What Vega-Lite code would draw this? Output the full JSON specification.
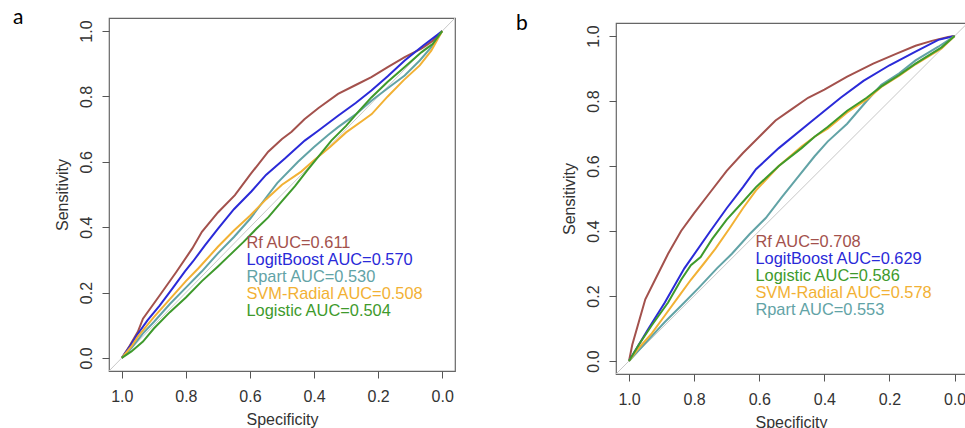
{
  "$schema": "https://vega.github.io/schema/vega-lite/v6.json",
  "background": "white",
  "padding": {"left": 12, "top": 6, "right": 0, "bottom": 0},
  "config": {
    "view": {"stroke": "#666666", "strokeWidth": 1.2},
    "axis": {"domain": false, "grid": false, "tickColor": "#555555", "tickSize": 7, "tickWidth": 1, "labelFont": "Liberation Sans", "labelFontSize": 16, "labelColor": "#333333", "titleFont": "Liberation Sans", "titleFontSize": 16, "titleFontWeight": "normal", "titleColor": "#333333", "labelFlush": false, "labelOverlap": false},
    "legend": {"orient": "none", "title": null, "symbolSize": 0, "symbolOpacity": 0, "symbolStrokeWidth": 0, "labelOffset": 0, "rowPadding": 0, "padding": 0, "labelFont": "Liberation Sans", "labelFontSize": 16.4, "labelLimit": 400, "labelBaseline": "middle"}
  },
  "datasets": {
    "diag": [{"spec": 1.1, "sens": -0.1}, {"spec": -0.1, "sens": 1.1}],
    "a": [
      {"curve": "Rf AUC=0.611", "spec": 1, "sens": 0}, {"curve": "Rf AUC=0.611", "spec": 0.975, "sens": 0.038}, {"curve": "Rf AUC=0.611", "spec": 0.95, "sens": 0.08}, {"curve": "Rf AUC=0.611", "spec": 0.934, "sens": 0.12}, {"curve": "Rf AUC=0.611", "spec": 0.882, "sens": 0.191}, {"curve": "Rf AUC=0.611", "spec": 0.83, "sens": 0.263}, {"curve": "Rf AUC=0.611", "spec": 0.78, "sens": 0.335}, {"curve": "Rf AUC=0.611", "spec": 0.75, "sens": 0.386}, {"curve": "Rf AUC=0.611", "spec": 0.7, "sens": 0.445}, {"curve": "Rf AUC=0.611", "spec": 0.647, "sens": 0.498}, {"curve": "Rf AUC=0.611", "spec": 0.6, "sens": 0.56}, {"curve": "Rf AUC=0.611", "spec": 0.543, "sens": 0.631}, {"curve": "Rf AUC=0.611", "spec": 0.5, "sens": 0.67}, {"curve": "Rf AUC=0.611", "spec": 0.47, "sens": 0.692}, {"curve": "Rf AUC=0.611", "spec": 0.43, "sens": 0.73}, {"curve": "Rf AUC=0.611", "spec": 0.387, "sens": 0.764}, {"curve": "Rf AUC=0.611", "spec": 0.325, "sens": 0.808}, {"curve": "Rf AUC=0.611", "spec": 0.27, "sens": 0.835}, {"curve": "Rf AUC=0.611", "spec": 0.221, "sens": 0.859}, {"curve": "Rf AUC=0.611", "spec": 0.17, "sens": 0.89}, {"curve": "Rf AUC=0.611", "spec": 0.117, "sens": 0.92}, {"curve": "Rf AUC=0.611", "spec": 0.065, "sens": 0.946}, {"curve": "Rf AUC=0.611", "spec": 0.03, "sens": 0.97}, {"curve": "Rf AUC=0.611", "spec": 0, "sens": 1},
      {"curve": "LogitBoost AUC=0.570", "spec": 1, "sens": 0}, {"curve": "LogitBoost AUC=0.570", "spec": 0.975, "sens": 0.035}, {"curve": "LogitBoost AUC=0.570", "spec": 0.954, "sens": 0.068}, {"curve": "LogitBoost AUC=0.570", "spec": 0.92, "sens": 0.115}, {"curve": "LogitBoost AUC=0.570", "spec": 0.882, "sens": 0.16}, {"curve": "LogitBoost AUC=0.570", "spec": 0.84, "sens": 0.215}, {"curve": "LogitBoost AUC=0.570", "spec": 0.803, "sens": 0.265}, {"curve": "LogitBoost AUC=0.570", "spec": 0.778, "sens": 0.295}, {"curve": "LogitBoost AUC=0.570", "spec": 0.74, "sens": 0.345}, {"curve": "LogitBoost AUC=0.570", "spec": 0.699, "sens": 0.396}, {"curve": "LogitBoost AUC=0.570", "spec": 0.65, "sens": 0.455}, {"curve": "LogitBoost AUC=0.570", "spec": 0.595, "sens": 0.51}, {"curve": "LogitBoost AUC=0.570", "spec": 0.55, "sens": 0.56}, {"curve": "LogitBoost AUC=0.570", "spec": 0.491, "sens": 0.61}, {"curve": "LogitBoost AUC=0.570", "spec": 0.429, "sens": 0.665}, {"curve": "LogitBoost AUC=0.570", "spec": 0.387, "sens": 0.695}, {"curve": "LogitBoost AUC=0.570", "spec": 0.325, "sens": 0.741}, {"curve": "LogitBoost AUC=0.570", "spec": 0.27, "sens": 0.78}, {"curve": "LogitBoost AUC=0.570", "spec": 0.221, "sens": 0.818}, {"curve": "LogitBoost AUC=0.570", "spec": 0.17, "sens": 0.862}, {"curve": "LogitBoost AUC=0.570", "spec": 0.117, "sens": 0.91}, {"curve": "LogitBoost AUC=0.570", "spec": 0.06, "sens": 0.955}, {"curve": "LogitBoost AUC=0.570", "spec": 0.013, "sens": 0.99}, {"curve": "LogitBoost AUC=0.570", "spec": 0, "sens": 1},
      {"curve": "Rpart AUC=0.530", "spec": 1, "sens": 0}, {"curve": "Rpart AUC=0.530", "spec": 0.97, "sens": 0.03}, {"curve": "Rpart AUC=0.530", "spec": 0.934, "sens": 0.075}, {"curve": "Rpart AUC=0.530", "spec": 0.9, "sens": 0.11}, {"curve": "Rpart AUC=0.530", "spec": 0.85, "sens": 0.165}, {"curve": "Rpart AUC=0.530", "spec": 0.8, "sens": 0.215}, {"curve": "Rpart AUC=0.530", "spec": 0.75, "sens": 0.265}, {"curve": "Rpart AUC=0.530", "spec": 0.7, "sens": 0.32}, {"curve": "Rpart AUC=0.530", "spec": 0.65, "sens": 0.37}, {"curve": "Rpart AUC=0.530", "spec": 0.6, "sens": 0.425}, {"curve": "Rpart AUC=0.530", "spec": 0.55, "sens": 0.49}, {"curve": "Rpart AUC=0.530", "spec": 0.515, "sens": 0.535}, {"curve": "Rpart AUC=0.530", "spec": 0.45, "sens": 0.6}, {"curve": "Rpart AUC=0.530", "spec": 0.4, "sens": 0.645}, {"curve": "Rpart AUC=0.530", "spec": 0.356, "sens": 0.682}, {"curve": "Rpart AUC=0.530", "spec": 0.325, "sens": 0.706}, {"curve": "Rpart AUC=0.530", "spec": 0.27, "sens": 0.745}, {"curve": "Rpart AUC=0.530", "spec": 0.221, "sens": 0.787}, {"curve": "Rpart AUC=0.530", "spec": 0.17, "sens": 0.825}, {"curve": "Rpart AUC=0.530", "spec": 0.117, "sens": 0.864}, {"curve": "Rpart AUC=0.530", "spec": 0.07, "sens": 0.91}, {"curve": "Rpart AUC=0.530", "spec": 0.034, "sens": 0.951}, {"curve": "Rpart AUC=0.530", "spec": 0, "sens": 1},
      {"curve": "SVM-Radial AUC=0.508", "spec": 1, "sens": 0}, {"curve": "SVM-Radial AUC=0.508", "spec": 0.97, "sens": 0.035}, {"curve": "SVM-Radial AUC=0.508", "spec": 0.95, "sens": 0.065}, {"curve": "SVM-Radial AUC=0.508", "spec": 0.9, "sens": 0.125}, {"curve": "SVM-Radial AUC=0.508", "spec": 0.85, "sens": 0.18}, {"curve": "SVM-Radial AUC=0.508", "spec": 0.8, "sens": 0.235}, {"curve": "SVM-Radial AUC=0.508", "spec": 0.76, "sens": 0.275}, {"curve": "SVM-Radial AUC=0.508", "spec": 0.7, "sens": 0.34}, {"curve": "SVM-Radial AUC=0.508", "spec": 0.65, "sens": 0.39}, {"curve": "SVM-Radial AUC=0.508", "spec": 0.6, "sens": 0.435}, {"curve": "SVM-Radial AUC=0.508", "spec": 0.55, "sens": 0.485}, {"curve": "SVM-Radial AUC=0.508", "spec": 0.5, "sens": 0.53}, {"curve": "SVM-Radial AUC=0.508", "spec": 0.44, "sens": 0.57}, {"curve": "SVM-Radial AUC=0.508", "spec": 0.4, "sens": 0.605}, {"curve": "SVM-Radial AUC=0.508", "spec": 0.35, "sens": 0.645}, {"curve": "SVM-Radial AUC=0.508", "spec": 0.3, "sens": 0.69}, {"curve": "SVM-Radial AUC=0.508", "spec": 0.25, "sens": 0.725}, {"curve": "SVM-Radial AUC=0.508", "spec": 0.22, "sens": 0.746}, {"curve": "SVM-Radial AUC=0.508", "spec": 0.17, "sens": 0.8}, {"curve": "SVM-Radial AUC=0.508", "spec": 0.12, "sens": 0.85}, {"curve": "SVM-Radial AUC=0.508", "spec": 0.07, "sens": 0.895}, {"curve": "SVM-Radial AUC=0.508", "spec": 0.034, "sens": 0.94}, {"curve": "SVM-Radial AUC=0.508", "spec": 0, "sens": 1},
      {"curve": "Logistic AUC=0.504", "spec": 1, "sens": 0}, {"curve": "Logistic AUC=0.504", "spec": 0.97, "sens": 0.02}, {"curve": "Logistic AUC=0.504", "spec": 0.934, "sens": 0.05}, {"curve": "Logistic AUC=0.504", "spec": 0.9, "sens": 0.09}, {"curve": "Logistic AUC=0.504", "spec": 0.85, "sens": 0.14}, {"curve": "Logistic AUC=0.504", "spec": 0.8, "sens": 0.185}, {"curve": "Logistic AUC=0.504", "spec": 0.75, "sens": 0.235}, {"curve": "Logistic AUC=0.504", "spec": 0.7, "sens": 0.28}, {"curve": "Logistic AUC=0.504", "spec": 0.668, "sens": 0.31}, {"curve": "Logistic AUC=0.504", "spec": 0.62, "sens": 0.355}, {"curve": "Logistic AUC=0.504", "spec": 0.58, "sens": 0.395}, {"curve": "Logistic AUC=0.504", "spec": 0.543, "sens": 0.43}, {"curve": "Logistic AUC=0.504", "spec": 0.5, "sens": 0.48}, {"curve": "Logistic AUC=0.504", "spec": 0.46, "sens": 0.525}, {"curve": "Logistic AUC=0.504", "spec": 0.42, "sens": 0.575}, {"curve": "Logistic AUC=0.504", "spec": 0.387, "sens": 0.615}, {"curve": "Logistic AUC=0.504", "spec": 0.346, "sens": 0.665}, {"curve": "Logistic AUC=0.504", "spec": 0.3, "sens": 0.71}, {"curve": "Logistic AUC=0.504", "spec": 0.26, "sens": 0.755}, {"curve": "Logistic AUC=0.504", "spec": 0.221, "sens": 0.797}, {"curve": "Logistic AUC=0.504", "spec": 0.17, "sens": 0.845}, {"curve": "Logistic AUC=0.504", "spec": 0.117, "sens": 0.89}, {"curve": "Logistic AUC=0.504", "spec": 0.065, "sens": 0.935}, {"curve": "Logistic AUC=0.504", "spec": 0.03, "sens": 0.96}, {"curve": "Logistic AUC=0.504", "spec": 0, "sens": 1}
    ],
    "b": [
      {"curve": "Rf AUC=0.708", "spec": 1, "sens": 0}, {"curve": "Rf AUC=0.708", "spec": 0.99, "sens": 0.05}, {"curve": "Rf AUC=0.708", "spec": 0.97, "sens": 0.12}, {"curve": "Rf AUC=0.708", "spec": 0.95, "sens": 0.19}, {"curve": "Rf AUC=0.708", "spec": 0.92, "sens": 0.25}, {"curve": "Rf AUC=0.708", "spec": 0.88, "sens": 0.33}, {"curve": "Rf AUC=0.708", "spec": 0.84, "sens": 0.4}, {"curve": "Rf AUC=0.708", "spec": 0.8, "sens": 0.455}, {"curve": "Rf AUC=0.708", "spec": 0.75, "sens": 0.52}, {"curve": "Rf AUC=0.708", "spec": 0.7, "sens": 0.585}, {"curve": "Rf AUC=0.708", "spec": 0.65, "sens": 0.64}, {"curve": "Rf AUC=0.708", "spec": 0.6, "sens": 0.69}, {"curve": "Rf AUC=0.708", "spec": 0.55, "sens": 0.74}, {"curve": "Rf AUC=0.708", "spec": 0.5, "sens": 0.775}, {"curve": "Rf AUC=0.708", "spec": 0.45, "sens": 0.81}, {"curve": "Rf AUC=0.708", "spec": 0.4, "sens": 0.835}, {"curve": "Rf AUC=0.708", "spec": 0.33, "sens": 0.875}, {"curve": "Rf AUC=0.708", "spec": 0.25, "sens": 0.915}, {"curve": "Rf AUC=0.708", "spec": 0.18, "sens": 0.945}, {"curve": "Rf AUC=0.708", "spec": 0.12, "sens": 0.97}, {"curve": "Rf AUC=0.708", "spec": 0.07, "sens": 0.985}, {"curve": "Rf AUC=0.708", "spec": 0.02, "sens": 0.997}, {"curve": "Rf AUC=0.708", "spec": 0, "sens": 1},
      {"curve": "LogitBoost AUC=0.629", "spec": 1, "sens": 0}, {"curve": "LogitBoost AUC=0.629", "spec": 0.97, "sens": 0.05}, {"curve": "LogitBoost AUC=0.629", "spec": 0.94, "sens": 0.1}, {"curve": "LogitBoost AUC=0.629", "spec": 0.89, "sens": 0.18}, {"curve": "LogitBoost AUC=0.629", "spec": 0.83, "sens": 0.285}, {"curve": "LogitBoost AUC=0.629", "spec": 0.75, "sens": 0.4}, {"curve": "LogitBoost AUC=0.629", "spec": 0.7, "sens": 0.47}, {"curve": "LogitBoost AUC=0.629", "spec": 0.65, "sens": 0.535}, {"curve": "LogitBoost AUC=0.629", "spec": 0.61, "sens": 0.59}, {"curve": "LogitBoost AUC=0.629", "spec": 0.54, "sens": 0.655}, {"curve": "LogitBoost AUC=0.629", "spec": 0.44, "sens": 0.737}, {"curve": "LogitBoost AUC=0.629", "spec": 0.35, "sens": 0.81}, {"curve": "LogitBoost AUC=0.629", "spec": 0.28, "sens": 0.862}, {"curve": "LogitBoost AUC=0.629", "spec": 0.2, "sens": 0.91}, {"curve": "LogitBoost AUC=0.629", "spec": 0.12, "sens": 0.952}, {"curve": "LogitBoost AUC=0.629", "spec": 0.05, "sens": 0.988}, {"curve": "LogitBoost AUC=0.629", "spec": 0, "sens": 1},
      {"curve": "Rpart AUC=0.553", "spec": 1, "sens": 0}, {"curve": "Rpart AUC=0.553", "spec": 0.95, "sens": 0.055}, {"curve": "Rpart AUC=0.553", "spec": 0.89, "sens": 0.12}, {"curve": "Rpart AUC=0.553", "spec": 0.84, "sens": 0.17}, {"curve": "Rpart AUC=0.553", "spec": 0.786, "sens": 0.225}, {"curve": "Rpart AUC=0.553", "spec": 0.73, "sens": 0.285}, {"curve": "Rpart AUC=0.553", "spec": 0.684, "sens": 0.33}, {"curve": "Rpart AUC=0.553", "spec": 0.63, "sens": 0.39}, {"curve": "Rpart AUC=0.553", "spec": 0.58, "sens": 0.44}, {"curve": "Rpart AUC=0.553", "spec": 0.53, "sens": 0.505}, {"curve": "Rpart AUC=0.553", "spec": 0.49, "sens": 0.555}, {"curve": "Rpart AUC=0.553", "spec": 0.43, "sens": 0.63}, {"curve": "Rpart AUC=0.553", "spec": 0.39, "sens": 0.675}, {"curve": "Rpart AUC=0.553", "spec": 0.33, "sens": 0.73}, {"curve": "Rpart AUC=0.553", "spec": 0.27, "sens": 0.8}, {"curve": "Rpart AUC=0.553", "spec": 0.225, "sens": 0.85}, {"curve": "Rpart AUC=0.553", "spec": 0.17, "sens": 0.885}, {"curve": "Rpart AUC=0.553", "spec": 0.12, "sens": 0.925}, {"curve": "Rpart AUC=0.553", "spec": 0.05, "sens": 0.967}, {"curve": "Rpart AUC=0.553", "spec": 0, "sens": 1},
      {"curve": "SVM-Radial AUC=0.578", "spec": 1, "sens": 0}, {"curve": "SVM-Radial AUC=0.578", "spec": 0.97, "sens": 0.04}, {"curve": "SVM-Radial AUC=0.578", "spec": 0.93, "sens": 0.085}, {"curve": "SVM-Radial AUC=0.578", "spec": 0.89, "sens": 0.14}, {"curve": "SVM-Radial AUC=0.578", "spec": 0.85, "sens": 0.195}, {"curve": "SVM-Radial AUC=0.578", "spec": 0.81, "sens": 0.25}, {"curve": "SVM-Radial AUC=0.578", "spec": 0.77, "sens": 0.3}, {"curve": "SVM-Radial AUC=0.578", "spec": 0.735, "sens": 0.345}, {"curve": "SVM-Radial AUC=0.578", "spec": 0.69, "sens": 0.41}, {"curve": "SVM-Radial AUC=0.578", "spec": 0.65, "sens": 0.47}, {"curve": "SVM-Radial AUC=0.578", "spec": 0.61, "sens": 0.525}, {"curve": "SVM-Radial AUC=0.578", "spec": 0.54, "sens": 0.6}, {"curve": "SVM-Radial AUC=0.578", "spec": 0.47, "sens": 0.66}, {"curve": "SVM-Radial AUC=0.578", "spec": 0.43, "sens": 0.69}, {"curve": "SVM-Radial AUC=0.578", "spec": 0.39, "sens": 0.715}, {"curve": "SVM-Radial AUC=0.578", "spec": 0.33, "sens": 0.765}, {"curve": "SVM-Radial AUC=0.578", "spec": 0.27, "sens": 0.805}, {"curve": "SVM-Radial AUC=0.578", "spec": 0.225, "sens": 0.843}, {"curve": "SVM-Radial AUC=0.578", "spec": 0.17, "sens": 0.878}, {"curve": "SVM-Radial AUC=0.578", "spec": 0.12, "sens": 0.913}, {"curve": "SVM-Radial AUC=0.578", "spec": 0.04, "sens": 0.962}, {"curve": "SVM-Radial AUC=0.578", "spec": 0, "sens": 1},
      {"curve": "Logistic AUC=0.586", "spec": 1, "sens": 0}, {"curve": "Logistic AUC=0.586", "spec": 0.97, "sens": 0.05}, {"curve": "Logistic AUC=0.586", "spec": 0.93, "sens": 0.11}, {"curve": "Logistic AUC=0.586", "spec": 0.88, "sens": 0.18}, {"curve": "Logistic AUC=0.586", "spec": 0.84, "sens": 0.25}, {"curve": "Logistic AUC=0.586", "spec": 0.81, "sens": 0.295}, {"curve": "Logistic AUC=0.586", "spec": 0.78, "sens": 0.32}, {"curve": "Logistic AUC=0.586", "spec": 0.745, "sens": 0.375}, {"curve": "Logistic AUC=0.586", "spec": 0.7, "sens": 0.435}, {"curve": "Logistic AUC=0.586", "spec": 0.65, "sens": 0.49}, {"curve": "Logistic AUC=0.586", "spec": 0.61, "sens": 0.535}, {"curve": "Logistic AUC=0.586", "spec": 0.54, "sens": 0.6}, {"curve": "Logistic AUC=0.586", "spec": 0.47, "sens": 0.655}, {"curve": "Logistic AUC=0.586", "spec": 0.43, "sens": 0.69}, {"curve": "Logistic AUC=0.586", "spec": 0.39, "sens": 0.72}, {"curve": "Logistic AUC=0.586", "spec": 0.33, "sens": 0.77}, {"curve": "Logistic AUC=0.586", "spec": 0.27, "sens": 0.81}, {"curve": "Logistic AUC=0.586", "spec": 0.225, "sens": 0.845}, {"curve": "Logistic AUC=0.586", "spec": 0.17, "sens": 0.88}, {"curve": "Logistic AUC=0.586", "spec": 0.12, "sens": 0.915}, {"curve": "Logistic AUC=0.586", "spec": 0.04, "sens": 0.965}, {"curve": "Logistic AUC=0.586", "spec": 0, "sens": 1}
    ]
  },
  "hconcat": [
    {
      "width": 346,
      "height": 353,
      "title": {"text": "a", "anchor": "start", "frame": "group", "dx": -96, "dy": 4, "offset": -23, "baseline": "alphabetic", "fontSize": 21, "font": "Lato", "fontWeight": "normal", "color": "#000000"},
      "layer": [
        {
          "data": {"name": "diag"},
          "mark": {"type": "line", "color": "#c8c8c8", "strokeWidth": 1, "clip": true},
          "encoding": {
            "x": {"field": "spec", "type": "quantitative", "scale": {"domain": [-0.04, 1.04], "reverse": true, "nice": false, "zero": false}, "axis": {"values": [0, 0.2, 0.4, 0.6, 0.8, 1], "format": ".1f", "labelPadding": 10, "titlePadding": 7}, "title": "Specificity"},
            "y": {"field": "sens", "type": "quantitative", "scale": {"domain": [-0.04, 1.04], "nice": false, "zero": false}, "axis": {"values": [0, 0.2, 0.4, 0.6, 0.8, 1], "format": ".1f", "labelAngle": 270, "labelAlign": "center", "labelBaseline": "bottom", "labelPadding": 8, "titlePadding": 8}, "title": "Sensitivity"}
          }
        },
        {
          "data": {"name": "a"},
          "mark": {"type": "line", "strokeWidth": 2, "clip": true},
          "encoding": {
            "x": {"field": "spec", "type": "quantitative"},
            "y": {"field": "sens", "type": "quantitative"},
            "color": {"field": "curve", "type": "nominal",
              "scale": {"domain": ["Rf AUC=0.611", "LogitBoost AUC=0.570", "Rpart AUC=0.530", "SVM-Radial AUC=0.508", "Logistic AUC=0.504"], "range": ["#a3514c", "#2a2ad8", "#62a3a6", "#f2b134", "#3e9a2c"]},
              "legend": {"legendX": 121, "legendY": 217, "encode": {"labels": {"update": {"fill": {"signal": "['#a3514c','#2a2ad8','#62a3a6','#f2b134','#3e9a2c'][indexof(['Rf AUC=0.611','LogitBoost AUC=0.570','Rpart AUC=0.530','SVM-Radial AUC=0.508','Logistic AUC=0.504'], datum.value)]"}}}}}
            }
          }
        }
      ]
    },
    {
      "vconcat": [
        {"width": 350, "height": 1, "data": {"values": []}, "mark": "point", "view": {"stroke": null}},
        {
          "width": 350,
          "height": 351,
          "title": {"text": "b", "anchor": "start", "frame": "group", "dx": -100, "dy": 6, "offset": -22, "baseline": "alphabetic", "fontSize": 21, "font": "Lato", "fontWeight": "normal", "color": "#000000"},
          "layer": [
            {
              "data": {"name": "diag"},
              "mark": {"type": "line", "color": "#c8c8c8", "strokeWidth": 1, "clip": true},
              "encoding": {
                "x": {"field": "spec", "type": "quantitative", "scale": {"domain": [-0.035, 1.04], "reverse": true, "nice": false, "zero": false}, "axis": {"values": [0, 0.2, 0.4, 0.6, 0.8, 1], "format": ".1f", "labelPadding": 10, "titlePadding": 7}, "title": "Specificity"},
                "y": {"field": "sens", "type": "quantitative", "scale": {"domain": [-0.04, 1.04], "nice": false, "zero": false}, "axis": {"values": [0, 0.2, 0.4, 0.6, 0.8, 1], "format": ".1f", "labelAngle": 270, "labelAlign": "center", "labelBaseline": "bottom", "labelPadding": 8, "titlePadding": 8}, "title": "Sensitivity"}
              }
            },
            {
              "data": {"name": "b"},
              "mark": {"type": "line", "strokeWidth": 2, "clip": true},
              "encoding": {
                "x": {"field": "spec", "type": "quantitative"},
                "y": {"field": "sens", "type": "quantitative"},
                "color": {"field": "curve", "type": "nominal",
                  "scale": {"domain": ["Rf AUC=0.708", "LogitBoost AUC=0.629", "Logistic AUC=0.586", "SVM-Radial AUC=0.578", "Rpart AUC=0.553"], "range": ["#a3514c", "#2a2ad8", "#3e9a2c", "#f2b134", "#62a3a6"]},
                  "legend": {"legendX": 123, "legendY": 216, "encode": {"labels": {"update": {"fill": {"signal": "['#a3514c','#2a2ad8','#3e9a2c','#f2b134','#62a3a6'][indexof(['Rf AUC=0.708','LogitBoost AUC=0.629','Logistic AUC=0.586','SVM-Radial AUC=0.578','Rpart AUC=0.553'], datum.value)]"}}}}}
                }
              }
            }
          ]
        }
      ],
      "spacing": 4,
      "bounds": "flush"
    }
  ],
  "spacing": 161,
  "bounds": "flush",
  "resolve": {"scale": {"color": "independent", "x": "independent", "y": "independent"}, "legend": {"color": "independent"}}
}
